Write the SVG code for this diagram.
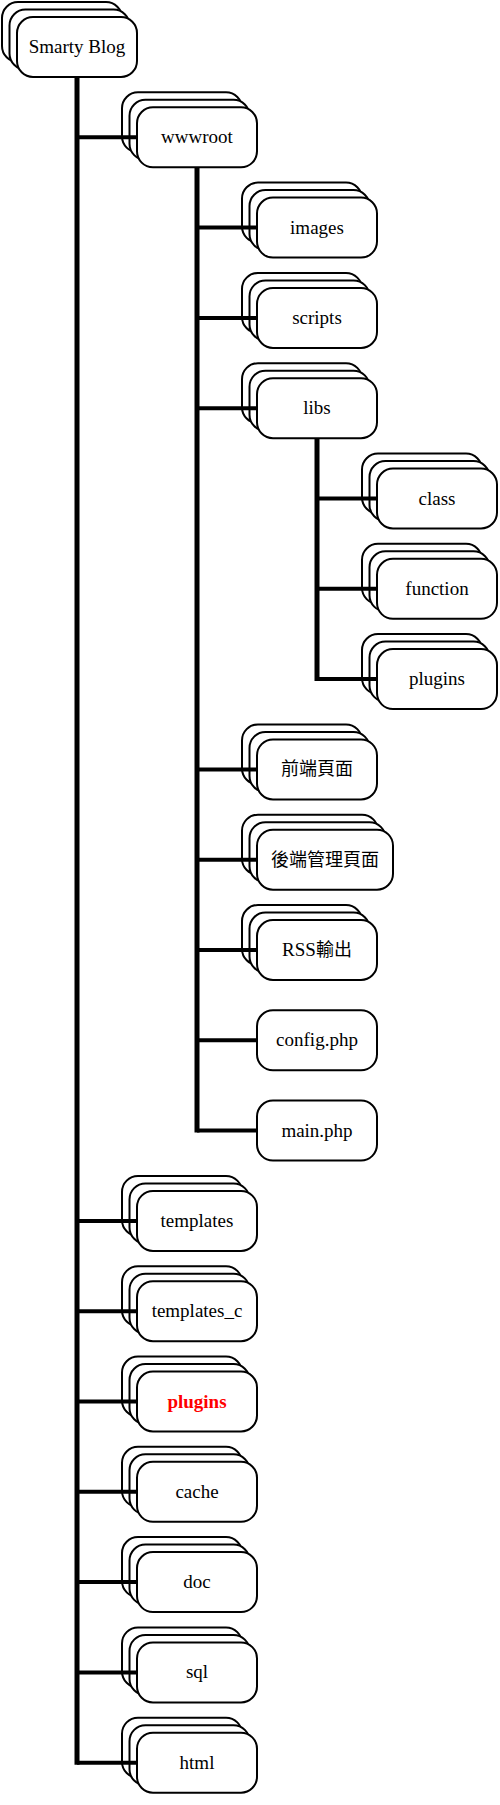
<svg xmlns="http://www.w3.org/2000/svg" width="500" height="1805" viewBox="0 0 500 1805">
<style>
  .b { fill: #ffffff; stroke: #000000; stroke-width: 2; }
  .t { font-family: "Liberation Serif", "Noto Sans CJK TC", serif; font-size: 19px; text-anchor: middle; fill: #000000; }
  .cjk { font-family: "Noto Sans CJK TC", "Liberation Serif", sans-serif; font-size: 18px; }
  .red { fill: #ff0000; font-weight: bold; }
  .v { stroke: #000000; stroke-width: 5; fill: none; }
  .h { stroke: #000000; stroke-width: 4; fill: none; }
</style>
<defs>
  <g id="stack">
    <rect class="b" x="-15" y="-45" width="120" height="60" rx="16" ry="16"/>
    <rect class="b" x="-7.5" y="-37.5" width="120" height="60" rx="16" ry="16"/>
    <rect class="b" x="0" y="-30" width="120" height="60" rx="16" ry="16"/>
  </g>
  <g id="stackw">
    <rect class="b" x="-15" y="-45" width="136" height="60" rx="16" ry="16"/>
    <rect class="b" x="-7.5" y="-37.5" width="136" height="60" rx="16" ry="16"/>
    <rect class="b" x="0" y="-30" width="136" height="60" rx="16" ry="16"/>
  </g>
  <g id="single">
    <rect class="b" x="0" y="-30" width="120" height="60" rx="16" ry="16"/>
  </g>
</defs>

<g id="n-smarty"><use href="#stack" x="17" y="47"/><text class="t" x="77" y="53">Smarty Blog</text></g>
<g id="n-wwwroot"><use href="#stack" x="137" y="137.3"/><text class="t" x="197" y="143.3">wwwroot</text></g>
<g id="n-images"><use href="#stack" x="257" y="227.6"/><text class="t" x="317" y="233.6">images</text></g>
<g id="n-scripts"><use href="#stack" x="257" y="317.9"/><text class="t" x="317" y="323.9">scripts</text></g>
<g id="n-libs"><use href="#stack" x="257" y="408.2"/><text class="t" x="317" y="414.2">libs</text></g>
<g id="n-class"><use href="#stack" x="377" y="498.5"/><text class="t" x="437" y="504.5">class</text></g>
<g id="n-function"><use href="#stack" x="377" y="588.8"/><text class="t" x="437" y="594.8">function</text></g>
<g id="n-plugins-lib"><use href="#stack" x="377" y="679.1"/><text class="t" x="437" y="685.1">plugins</text></g>
<g id="n-front"><use href="#stack" x="257" y="769.4"/><text class="t cjk" x="317" y="775.4">前端頁面</text></g>
<g id="n-back"><use href="#stackw" x="257" y="859.7"/><text class="t cjk" x="325" y="865.7">後端管理頁面</text></g>
<g id="n-rss"><use href="#stack" x="257" y="950"/><text class="t" x="317" y="956">RSS<tspan class="cjk">輸出</tspan></text></g>
<g id="n-config"><use href="#single" x="257" y="1040.3"/><text class="t" x="317" y="1046.3">config.php</text></g>
<g id="n-main"><use href="#single" x="257" y="1130.6"/><text class="t" x="317" y="1136.6">main.php</text></g>
<g id="n-templates"><use href="#stack" x="137" y="1220.9"/><text class="t" x="197" y="1226.9">templates</text></g>
<g id="n-templates_c"><use href="#stack" x="137" y="1311.2"/><text class="t" x="197" y="1317.2">templates_c</text></g>
<g id="n-plugins"><use href="#stack" x="137" y="1401.5"/><text class="t red" x="197" y="1407.5">plugins</text></g>
<g id="n-cache"><use href="#stack" x="137" y="1491.8"/><text class="t" x="197" y="1497.8">cache</text></g>
<g id="n-doc"><use href="#stack" x="137" y="1582.1"/><text class="t" x="197" y="1588.1">doc</text></g>
<g id="n-sql"><use href="#stack" x="137" y="1672.4"/><text class="t" x="197" y="1678.4">sql</text></g>
<g id="n-html"><use href="#stack" x="137" y="1762.7"/><text class="t" x="197" y="1768.7">html</text></g>

<g id="connectors">
  <line class="v" x1="77" y1="77" x2="77" y2="1764.7"/>
  <line class="v" x1="197" y1="167.3" x2="197" y2="1132.6"/>
  <line class="v" x1="317" y1="438.2" x2="317" y2="681.1"/>

  <line class="h" x1="77" y1="137.3" x2="137" y2="137.3"/>
  <line class="h" x1="77" y1="1220.9" x2="137" y2="1220.9"/>
  <line class="h" x1="77" y1="1311.2" x2="137" y2="1311.2"/>
  <line class="h" x1="77" y1="1401.5" x2="137" y2="1401.5"/>
  <line class="h" x1="77" y1="1491.8" x2="137" y2="1491.8"/>
  <line class="h" x1="77" y1="1582.1" x2="137" y2="1582.1"/>
  <line class="h" x1="77" y1="1672.4" x2="137" y2="1672.4"/>
  <line class="h" x1="77" y1="1762.7" x2="137" y2="1762.7"/>

  <line class="h" x1="197" y1="227.6" x2="257" y2="227.6"/>
  <line class="h" x1="197" y1="317.9" x2="257" y2="317.9"/>
  <line class="h" x1="197" y1="408.2" x2="257" y2="408.2"/>
  <line class="h" x1="197" y1="769.4" x2="257" y2="769.4"/>
  <line class="h" x1="197" y1="859.7" x2="257" y2="859.7"/>
  <line class="h" x1="197" y1="950" x2="257" y2="950"/>
  <line class="h" x1="197" y1="1040.3" x2="257" y2="1040.3"/>
  <line class="h" x1="197" y1="1130.6" x2="257" y2="1130.6"/>

  <line class="h" x1="317" y1="498.5" x2="377" y2="498.5"/>
  <line class="h" x1="317" y1="588.8" x2="377" y2="588.8"/>
  <line class="h" x1="317" y1="679.1" x2="377" y2="679.1"/>
</g>
</svg>
